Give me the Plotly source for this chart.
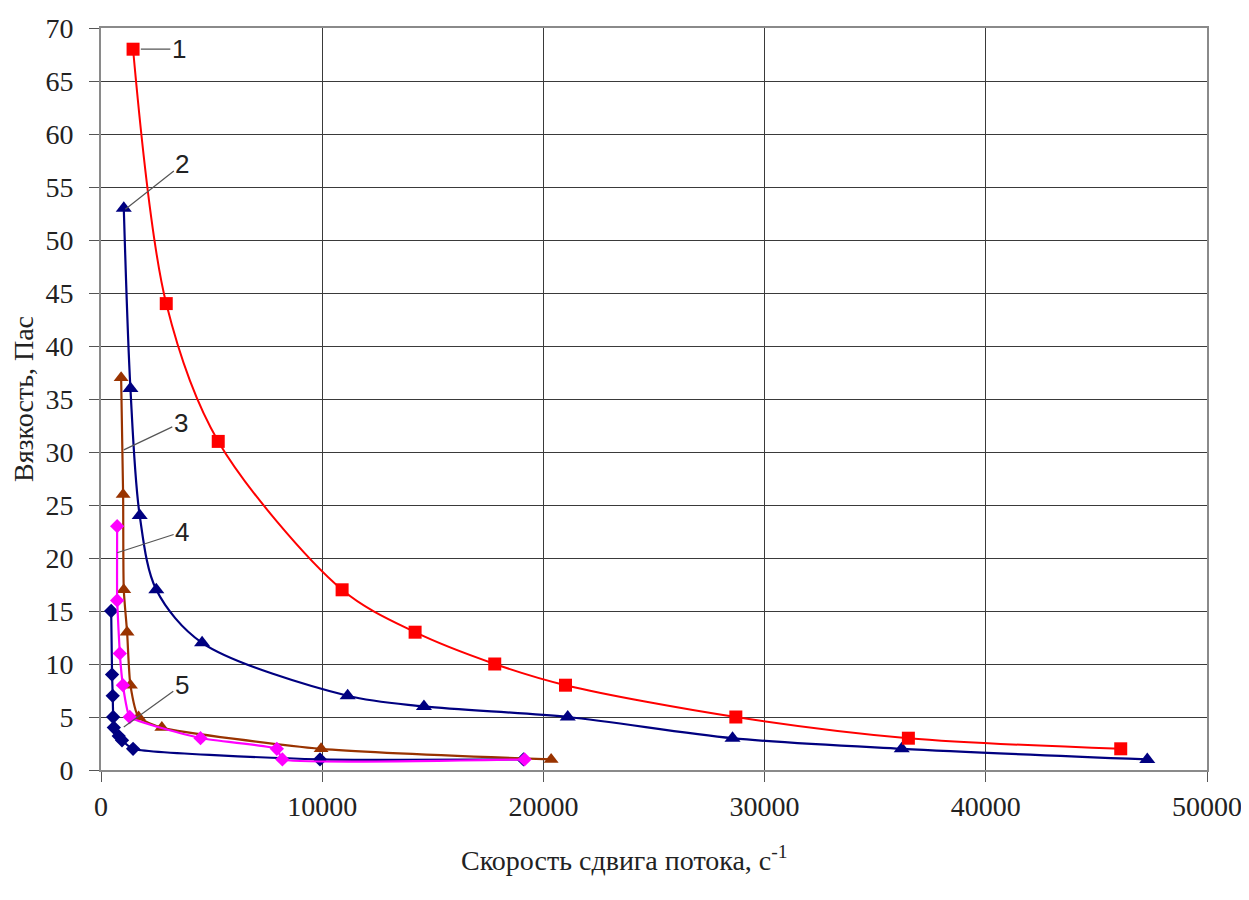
import plotly.graph_objects as go

# Series data (shear rate, 1/s ; viscosity, Pa*s)
s1_x = [1450, 2950, 5300, 10900, 14200, 17800, 21000, 28700, 36500, 46100]
s1_y = [68, 44, 31, 17, 13, 10, 8, 5, 3, 2]

s2_x = [1030, 1330, 1750, 2500, 4570, 11150, 14600, 21100, 28550, 36200, 47300]
s2_y = [53, 36, 24, 17, 12, 7, 6, 5, 3, 2, 1]

s3_x = [910, 1000, 1030, 1180, 1330, 1700, 2750, 9950, 20350]
s3_y = [37, 26, 17, 13, 8, 5, 4, 2, 1]

s4_x = [730, 730, 850, 990, 1300, 4500, 7950, 8200, 19150]
s4_y = [23, 16, 11, 8, 5, 3, 2, 1, 1]

s5_x = [460, 500, 530, 550, 580, 800, 950, 1450, 9900, 19100]
s5_y = [15, 9, 7, 5, 4, 3.2, 2.8, 2, 1, 1]

x_ticks = [0, 10000, 20000, 30000, 40000, 50000]
y_ticks = list(range(0, 75, 5))

labels = ["1", "2", "3", "4", "5"]
label_pts_x = [1800, 1100, 1030, 730, 1030]
label_pts_y = [68, 52.9, 30.2, 20.5, 4.05]
label_ax = [38, 57, 57, 65, 58]
label_ay = [0, -45, -27, -21, -42]

fig = go.Figure()

fig.add_trace(go.Scatter(x=s5_x, y=s5_y, mode="lines+markers",
                         line=dict(color="#000080", width=2.2, shape="spline", smoothing=0.5),
                         marker=dict(symbol="diamond", size=11, color="#000080")))
fig.add_trace(go.Scatter(x=s3_x, y=s3_y, mode="lines+markers",
                         line=dict(color="#993300", width=2.2, shape="spline", smoothing=0.6),
                         marker=dict(symbol="triangle-up", size=13, color="#993300")))
fig.add_trace(go.Scatter(x=s4_x, y=s4_y, mode="lines+markers",
                         line=dict(color="#FF00FF", width=2.2, shape="spline", smoothing=0.35),
                         marker=dict(symbol="diamond", size=11, color="#FF00FF")))
fig.add_trace(go.Scatter(x=s2_x, y=s2_y, mode="lines+markers",
                         line=dict(color="#000080", width=2.2, shape="spline", smoothing=0.9),
                         marker=dict(symbol="triangle-up", size=14, color="#000080")))
fig.add_trace(go.Scatter(x=s1_x, y=s1_y, mode="lines+markers",
                         line=dict(color="#FF0000", width=2, shape="spline", smoothing=0.9),
                         marker=dict(symbol="square", size=13, color="#FF0000")))

for t, px, py, ax, ay in zip(labels, label_pts_x, label_pts_y, label_ax, label_ay):
    fig.add_annotation(x=px, y=py, text=t, showarrow=True, arrowhead=0, arrowwidth=1.2,
                       arrowcolor="#555555", ax=ax, ay=ay, standoff=0,
                       font=dict(family="Liberation Sans", size=26, color="#222222"))

# x-axis title (centred as in the reference, slightly left of the plot centre)
fig.add_annotation(xref="paper", yref="paper", x=0.473, y=-0.1186, xanchor="center", yanchor="middle",
                   showarrow=False, text="Скорость сдвига потока, с<sup>-1</sup>",
                   font=dict(family="Liberation Serif", size=28, color="#222222"))

axis_font = dict(family="Liberation Serif", size=28, color="#222222")
fig.update_xaxes(range=[0, 50000], tickvals=x_ticks, ticktext=[str(v) for v in x_ticks],
                 showgrid=True, gridcolor="#3a3a3a", gridwidth=1.2, zeroline=False,
                 showline=True, linecolor="#8a8a8a", linewidth=2, mirror=True,
                 ticks="outside", ticklen=10, tickcolor="#555555", tickfont=axis_font,
                 automargin=False)
fig.update_yaxes(range=[0, 70], tickvals=y_ticks,
                 showgrid=True, gridcolor="#3a3a3a", gridwidth=1.2, zeroline=False,
                 showline=True, linecolor="#8a8a8a", linewidth=2, mirror=True,
                 ticks="outside", ticklen=10, tickcolor="#555555", tickfont=axis_font,
                 ticklabelstandoff=10, automargin=False,
                 title=dict(text="Вязкость, Пас",
                            font=dict(family="Liberation Serif", size=28, color="#222222"), standoff=10))

fig.update_layout(width=1249, height=900, showlegend=False,
                  margin=dict(l=93, r=50, t=20, b=138),
                  plot_bgcolor="white", paper_bgcolor="white")

fig.write_html("out.html")
